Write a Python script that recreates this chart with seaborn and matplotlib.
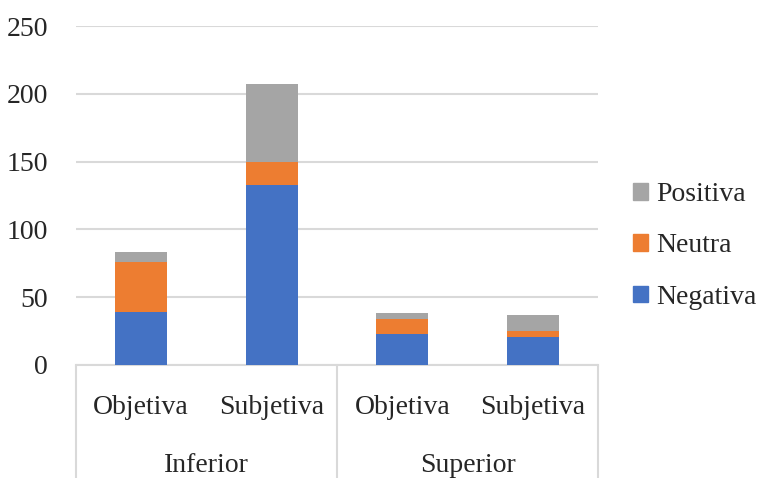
import numpy as np
import pandas as pd
import matplotlib
matplotlib.use("Agg")
import matplotlib.pyplot as plt
from matplotlib.patches import Patch
import seaborn as sns

groups = ["Inferior", "Inferior", "Superior", "Superior"]
tipos = ["Objetiva", "Subjetiva", "Objetiva", "Subjetiva"]
negativa = [39, 133, 23, 21]
neutra = [37, 17, 11, 4]
positiva = [7, 57, 4, 12]

colors = {"Negativa": "#4472C4", "Neutra": "#ED7D31", "Positiva": "#A5A5A5"}
grid_c = "#d9d9d9"

df = pd.DataFrame({"grupo": groups, "tipo": tipos,
                   "Negativa": negativa, "Neutra": neutra, "Positiva": positiva})
df["pos"] = [f"{g}-{t}" for g, t in zip(groups, tipos)]
df["neg_top"] = df["Negativa"]
df["neu_top"] = df["Negativa"] + df["Neutra"]
df["pos_top"] = df["neu_top"] + df["Positiva"]

sns.set_style("white")
plt.rcParams["font.family"] = ["Liberation Serif", "DejaVu Serif"]
fs = 20

fig = plt.figure(figsize=(7.65, 4.78), dpi=100)
ax = fig.add_axes([76 / 765, 113 / 478, 522 / 765, 339 / 478])

# stacked look: draw totals first, then cover with lower parts
for col, key in [("pos_top", "Positiva"), ("neu_top", "Neutra"), ("neg_top", "Negativa")]:
    sns.barplot(data=df, x="pos", y=col, color=colors[key], width=0.4,
                saturation=1, linewidth=0, ax=ax, zorder=3)

ax.set_ylim(0, 250)
ax.set_xlim(-0.5, 3.5)
ax.set_yticks(range(0, 251, 50))
ax.yaxis.grid(True, color=grid_c, lw=1.5, zorder=0)
ax.set_axisbelow(True)
for s in ["top", "right", "left"]:
    ax.spines[s].set_visible(False)
ax.spines["bottom"].set_color(grid_c)
ax.spines["bottom"].set_linewidth(1.5)
ax.tick_params(axis="y", length=0, pad=20, labelsize=fs)
ax.set_xticks([])
ax.set_xlabel("")
ax.set_ylabel("")

tr = ax.get_xaxis_transform()
for i, t in enumerate(tipos):
    ax.text(i, -0.124, t, transform=tr, ha="center", va="center", fontsize=fs)
for xc, g in [(0.5, "Inferior"), (2.5, "Superior")]:
    ax.text(xc, -0.295, g, transform=tr, ha="center", va="center", fontsize=fs)
for xv in [-0.5, 1.5, 3.5]:
    ax.plot([xv, xv], [0, -0.34], transform=tr, color=grid_c, lw=1.5, clip_on=False)

handles = [Patch(color=colors[k]) for k in ["Positiva", "Neutra", "Negativa"]]
fig.legend(handles, ["Positiva", "Neutra", "Negativa"], loc="center left",
           bbox_to_anchor=(608 / 765, 1 - 246 / 478), frameon=False, fontsize=fs,
           handlelength=0.55, handleheight=0.55, handletextpad=0.3, labelspacing=0.95)

fig.savefig("out.png", dpi=100)
